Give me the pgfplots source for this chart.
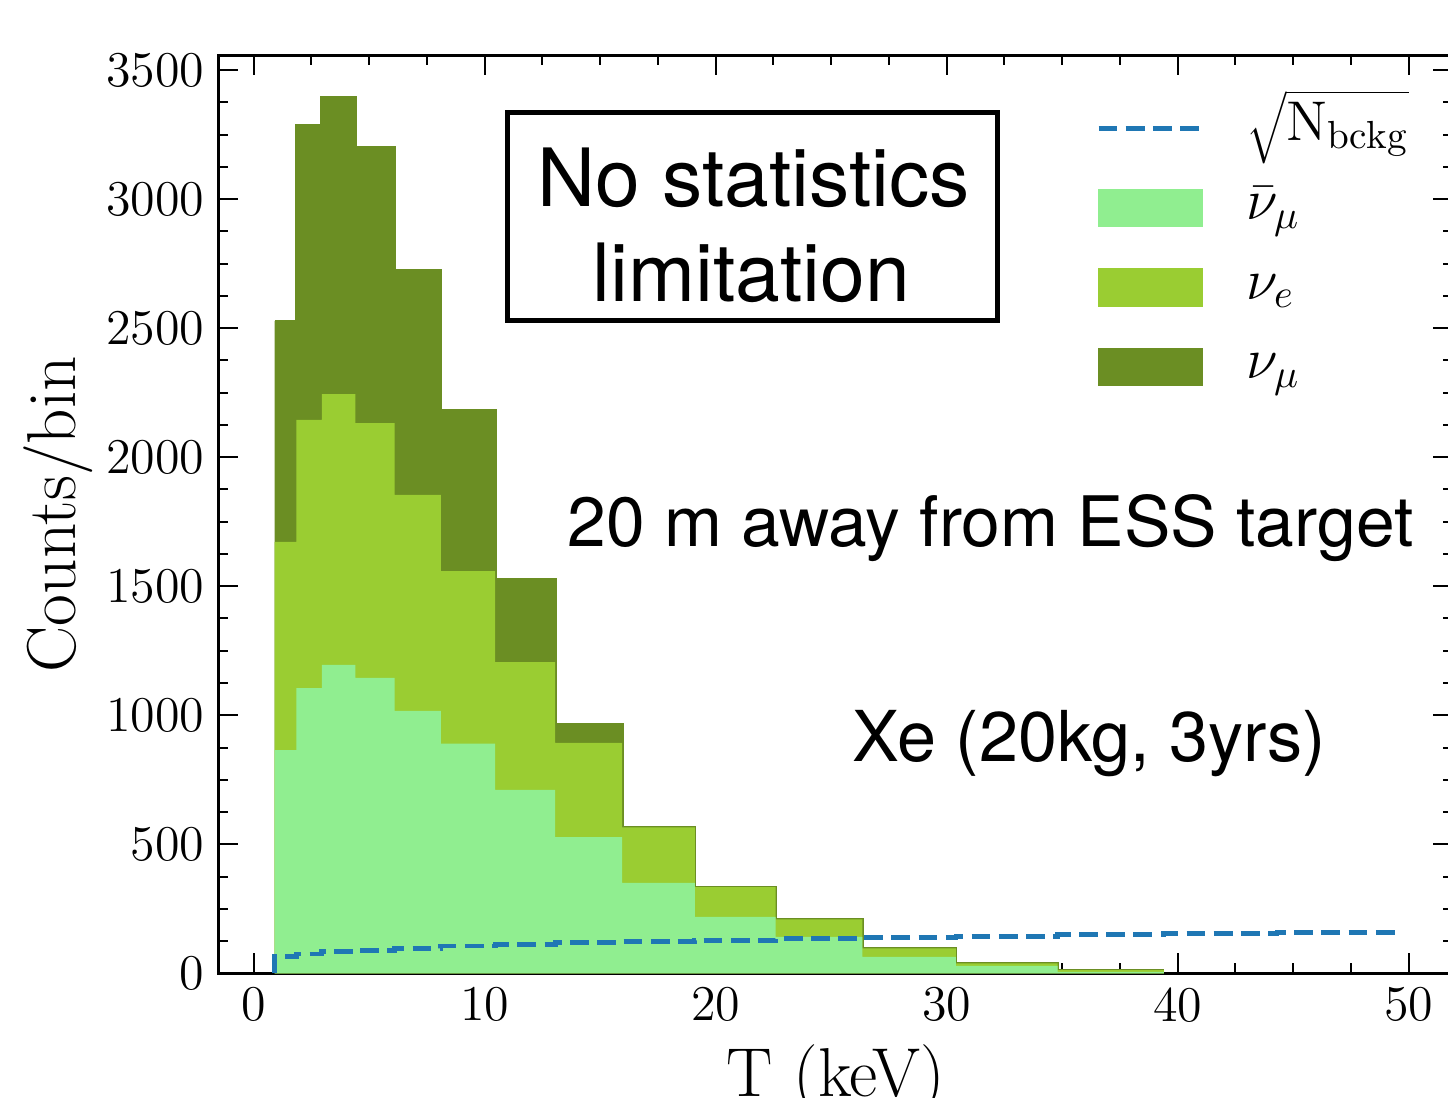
\documentclass[border=0pt]{standalone}
\usepackage{pgfplots}
\pgfplotsset{compat=1.18}
\usepackage{fontspec}
\newfontfamily\helv{TeX Gyre Heros}
\definecolor{lgreen}{RGB}{144,238,144}
\definecolor{ygreen}{RGB}{154,205,50}
\definecolor{odrab}{RGB}{107,142,35}
\definecolor{tabblue}{RGB}{31,119,180}
\begin{document}
\begin{tikzpicture}
\begin{axis}[
  scale only axis, width=308.7pt, height=229.6pt,
  xmin=-1.53, xmax=51.93, ymin=0, ymax=3558,
  xtick={0,10,...,50}, ytick={0,500,...,3500},
  minor x tick num=3, minor y tick num=3,
  tick align=inside, tick pos=both,
  major tick length=5pt, minor tick length=2.5pt,
  every tick/.style={black, line width=0.5pt},
  axis line style={line width=0.75pt},
  scaled ticks=false,
  /pgf/number format/1000 sep={},
  /pgf/number format/assume math mode=true,
  tick label style={font=\fontsize{12.5}{15}\selectfont},
  xlabel={T (keV)}, ylabel={Counts/bin},
  every axis x label/.style={at={(axis description cs:0.5,0)}, anchor=base, yshift=-30.8pt, font=\fontsize{17.3}{21}\selectfont},
  every axis y label/.style={at={(axis description cs:-0.1158,0.5)}, anchor=base, rotate=90, font=\fontsize{17.3}{21}\selectfont},
  legend style={draw=none, fill=none, inner sep=0pt, outer sep=0pt,
    at={(axis cs:36.47,3391)}, anchor=north west, row sep=4.9pt,
    font=\fontsize{14}{17}\selectfont,
    nodes={inner sep=0pt, text height=10.5pt, text depth=4.5pt},
    /tikz/every odd column/.append style={column sep=10.75pt}},
  legend cell align=left,
]
\coordinate (SW) at (rel axis cs:0,0);
\coordinate (NE) at (rel axis cs:1,1);

% nu_mu (cumulative top)
\addplot[const plot, fill=odrab, draw=none, forget plot] coordinates {
(0.9,2527) (1.85,3287) (2.95,3395) (4.4,3201) (6.1,2725) (8.1,2180) (10.45,1528)
(13.05,966) (15.95,566) (19.1,334) (22.6,209) (26.35,97) (30.4,39) (34.8,13) (39.4,13)} \closedcycle;
\addplot[const plot, draw=odrab, line width=0.7pt, forget plot] coordinates {
(0.9,2527) (1.85,3287) (2.95,3395) (4.4,3201) (6.1,2725) (8.1,2180) (10.45,1528)
(13.05,966) (15.95,566) (19.1,334) (22.6,209) (26.35,97) (30.4,39) (34.8,13) (39.4,13)};
% nu_e (cumulative top)
\addplot[const plot, fill=ygreen, draw=none, forget plot] coordinates {
(0.9,1672) (1.85,2144) (2.95,2244) (4.4,2132) (6.1,1854) (8.1,1559) (10.45,1206)
(13.05,893) (15.95,566) (19.1,334) (22.6,209) (26.35,97) (30.4,39) (34.8,13) (39.4,13)} \closedcycle;
% anti nu_mu
\addplot[const plot, fill=lgreen, draw=none, forget plot] coordinates {
(0.9,865) (1.85,1105) (2.95,1195) (4.4,1145) (6.1,1017) (8.1,890) (10.45,711)
(13.05,528) (15.95,351) (19.1,219) (22.6,142) (26.35,64) (30.4,29) (34.8,6) (39.4,6)} \closedcycle;
% sqrt(N_bckg)
\addplot[const plot, draw=tabblue, line width=1.2pt, dash pattern=on 4.7pt off 2.1pt, forget plot] coordinates {
(0.9,0) (0.9,64) (1.85,75) (2.95,84) (4.4,90) (6.1,97) (8.1,106) (10.45,113) (13.05,119)
(15.95,123) (19.1,129) (22.6,134) (26.35,139) (30.4,144.5) (34.8,150) (39.4,155) (44.3,159) (49.5,159)};

\addlegendimage{legend image code/.code={\draw[tabblue, line width=1.2pt, dash pattern=on 4.7pt off 2.1pt] (0pt,0pt) -- (25.4pt,0pt);}}
\addlegendentry{$\sqrt{\mathrm{N_{bckg}}}$}
\addlegendimage{legend image code/.code={\fill[lgreen] (0pt,-4.6pt) rectangle (26pt,4.6pt);}}
\addlegendentry{$\bar{\nu}_\mu$}
\addlegendimage{legend image code/.code={\fill[ygreen] (0pt,-4.6pt) rectangle (26pt,4.6pt);}}
\addlegendentry{$\nu_e$}
\addlegendimage{legend image code/.code={\fill[odrab] (0pt,-4.6pt) rectangle (26pt,4.6pt);}}
\addlegendentry{$\nu_\mu$}

\draw[line width=1.25pt] (axis cs:10.99,3334) rectangle (axis cs:32.20,2531);
\node[anchor=base, inner sep=0pt, font=\helv\fontsize{20.1}{24}\selectfont] at (axis cs:21.63,2973) {No statistics};
\node[anchor=base, inner sep=0pt, font=\helv\fontsize{20.1}{24}\selectfont] at (axis cs:21.55,2602) {limitation};
\node[anchor=base, inner sep=0pt, font=\helv\fontsize{17.4}{21}\selectfont] at (axis cs:31.9,1653) {20 m away from ESS target};
\node[anchor=base, inner sep=0pt, font=\helv\fontsize{17.55}{21}\selectfont] at (axis cs:36.17,820) {Xe (20kg, 3yrs)};
\end{axis}
\pgfresetboundingbox
\path ([shift={(-54.6pt,-30.9pt)}]SW) rectangle ([shift={(-1.3pt,13.75pt)}]NE);
\end{tikzpicture}
\end{document}
